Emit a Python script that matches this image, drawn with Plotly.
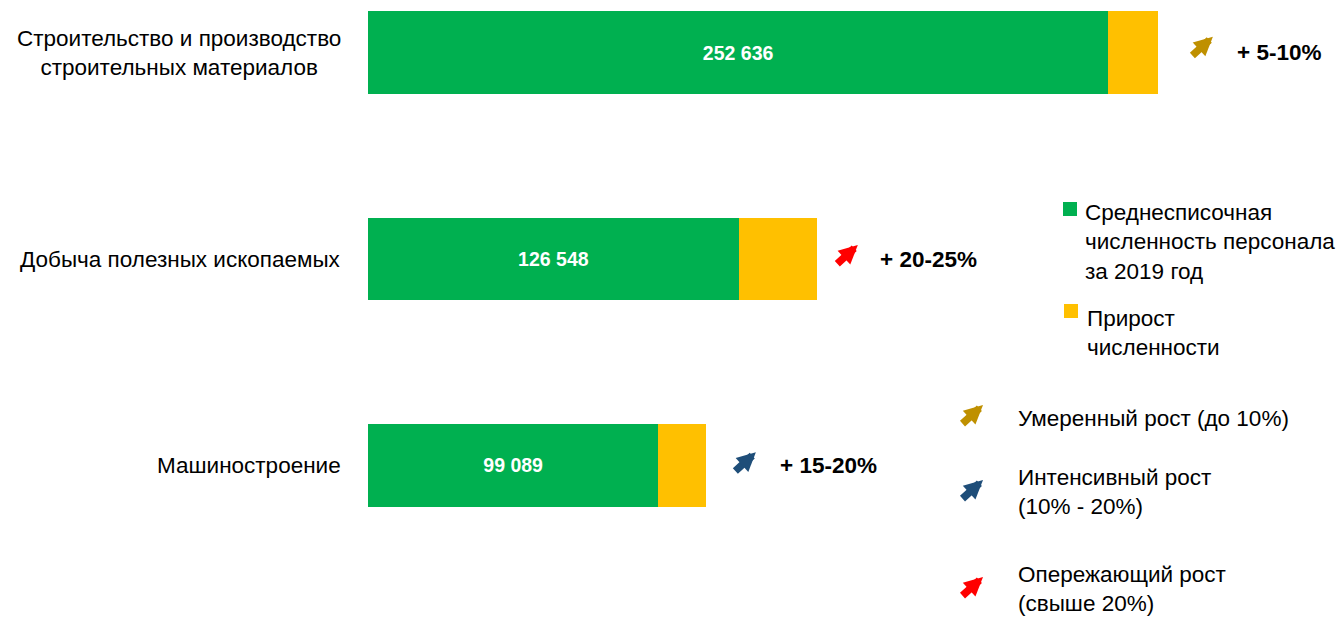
import plotly.graph_objects as go

# ---- data ----
categories = ["Машиностроение", "Добыча полезных ископаемых", "Строительство и производство<br>строительных материалов"]
headcount_2019 = [99089, 126548, 252636]
growth = [16200, 26600, 16900]
growth_labels = ["+ 15-20%", "+ 20-25%", "+ 5-10%"]
growth_class = ["intense", "fast", "moderate"]

legend_bar_names = ["Среднесписочная<br>численность персонала<br>за 2019 год", "Прирост<br>численности"]
arrow_legend = [
    ("moderate", "Умеренный рост (до 10%)"),
    ("intense", "Интенсивный рост<br>(10% - 20%)"),
    ("fast", "Опережающий рост<br>(свыше 20%)"),
]

# ---- style ----
W, H = 1343, 619
GREEN, YELLOW = "#00B050", "#FFC000"
ARROW_COL = {"moderate": "#BF9000", "intense": "#1F4E79", "fast": "#FF0000"}
FONT = "Liberation Sans, Arial, sans-serif"
TXT = 22.5

def px(x):
    return x / W

def py(y):
    return 1 - y / H

fig = go.Figure()
fig.add_trace(go.Bar(
    y=categories, x=headcount_2019, orientation="h", marker_color=GREEN,
    width=0.401, name=legend_bar_names[0], texttemplate="<b>%{x:,}</b>",
    textposition="inside", insidetextanchor="middle",
    textfont=dict(color="white", size=19.5, family=FONT), showlegend=False,
    marker_line_width=0, hoverinfo="skip"))
fig.add_trace(go.Bar(
    y=categories, x=growth, orientation="h", marker_color=YELLOW,
    width=0.401, name=legend_bar_names[1], showlegend=False,
    marker_line_width=0, hoverinfo="skip"))

arrow_kw = dict(text="", showarrow=True, ax=-22, ay=20, arrowhead=2, arrowsize=0.5,
                arrowwidth=7.5)

annotations = []
arrow_shift = [(50, 13), (41, 14), (55, 16)]
text_shift = [72, 61, 77]
for i, cat in enumerate(categories):
    total = headcount_2019[i] + growth[i]
    # category label
    annotations.append(dict(
        x=px(343), xref="paper", y=cat, yref="y", xanchor="right", yanchor="middle",
        text=cat, showarrow=False, align="center",
        font=dict(size=TXT, color="black", family=FONT)))
    # growth arrow
    annotations.append(dict(
        x=total, y=cat, xref="x", yref="y", xshift=arrow_shift[i][0], yshift=arrow_shift[i][1],
        arrowcolor=ARROW_COL[growth_class[i]], **arrow_kw))
    # growth label
    annotations.append(dict(
        x=total, y=cat, xref="x", yref="y", xshift=text_shift[i], xanchor="left",
        yanchor="middle", text="<b>" + growth_labels[i] + "</b>", showarrow=False,
        font=dict(size=22.5, color="black", family=FONT)))

# legend: bar colours
shapes = []
for (x0, y0, col) in [(1063, 202, GREEN), (1064, 304, YELLOW)]:
    shapes.append(dict(type="rect", xref="paper", yref="paper", x0=px(x0), x1=px(x0 + 14),
                       y0=py(y0 + 14), y1=py(y0), fillcolor=col, line_width=0))
annotations.append(dict(x=px(1083), y=py(242), xref="paper", yref="paper", xanchor="left",
                        yanchor="middle", align="left", text=legend_bar_names[0],
                        showarrow=False, font=dict(size=TXT, color="black", family=FONT)))
annotations.append(dict(x=px(1085), y=py(333), xref="paper", yref="paper", xanchor="left",
                        yanchor="middle", align="left", text=legend_bar_names[1],
                        showarrow=False, font=dict(size=TXT, color="black", family=FONT)))

# legend: arrows
for (cls, label), tip_y, text_y in zip(arrow_legend, [405, 480, 577], [418, 492, 589]):
    annotations.append(dict(x=px(983), y=py(tip_y), xref="paper", yref="paper",
                            arrowcolor=ARROW_COL[cls], **arrow_kw))
    annotations.append(dict(x=px(1016), y=py(text_y), xref="paper", yref="paper",
                            xanchor="left", yanchor="middle", align="left", text=label,
                            showarrow=False, font=dict(size=TXT, color="black", family=FONT)))

fig.update_layout(
    width=W, height=H, margin=dict(l=0, r=0, t=0, b=0),
    paper_bgcolor="white", plot_bgcolor="white", barmode="stack", separators=". ",
    xaxis=dict(domain=[368 / W, 1], range=[0, 332700], visible=False),
    yaxis=dict(domain=[0, 1], range=[-0.745, 2.256], visible=False,
               categoryorder="array", categoryarray=categories),
    annotations=annotations, shapes=shapes, showlegend=False,
)

fig.write_html("out.html")
